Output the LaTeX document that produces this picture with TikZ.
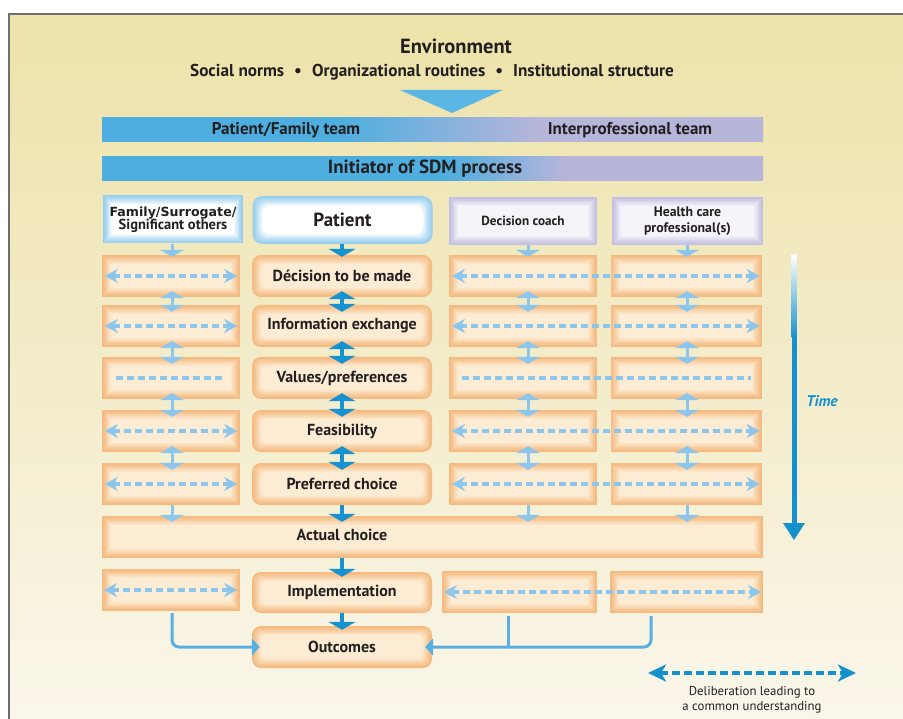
\documentclass[tikz,border=0pt]{standalone}
\usepackage{fontspec}
\setmainfont{PT Sans}
\newfontfamily\verdfont{DejaVu Sans}
\usetikzlibrary{arrows.meta,calc}
\definecolor{bgtop}{RGB}{237,226,169}
\definecolor{bgmid}{RGB}{243,235,198}
\definecolor{bgbot}{RGB}{250,246,234}
\definecolor{framecol}{RGB}{110,110,110}
\definecolor{barblue}{RGB}{77,174,223}
\definecolor{barlav}{RGB}{183,181,218}
\definecolor{oedge}{RGB}{244,186,128}
\definecolor{ocenter}{RGB}{253,236,212}
\definecolor{bedge}{RGB}{150,206,238}
\definecolor{ledge}{RGB}{196,192,226}
\definecolor{lcenter}{RGB}{246,244,249}
\definecolor{lightarr}{RGB}{140,198,236}
\definecolor{darkarr}{RGB}{22,146,208}
\definecolor{outarr}{RGB}{88,176,226}
\definecolor{txt}{RGB}{35,31,32}
\definecolor{trianglecol}{RGB}{90,182,228}
\definecolor{timeblue}{RGB}{20,145,205}
\pgfdeclarehorizontalshading{barA}{100bp}{color(0bp)=(barblue); color(43bp)=(barblue); color(58bp)=(barlav); color(100bp)=(barlav)}
\pgfdeclarehorizontalshading{barB}{100bp}{color(0bp)=(barblue); color(51bp)=(barblue); color(60bp)=(barlav); color(100bp)=(barlav)}
\newcommand\boxfont{\bfseries\fontsize{16}{19}\selectfont}
\tikzset{
  glow/.style n args={4}{fill=#1, path picture={
    \foreach \k in {1,...,10}{
      \pgfmathsetmacro\gp{100*(\k/10)^1.2}
      \fill[#2!\gp!#1, rounded corners=#3]
        ([xshift=\k*#4, yshift=\k*#4]path picture bounding box.south west) rectangle
        ([xshift=-\k*#4, yshift=-\k*#4]path picture bounding box.north east);
    }}},
  obox/.style={glow={oedge}{ocenter}{0pt}{0.9pt}, minimum height=42pt},
  lbox/.style={obox, minimum width=138pt},
  dbox/.style={obox, minimum width=148pt},
  hbox/.style={obox, minimum width=151pt},
  mbox/.style={glow={oedge}{ocenter}{6pt}{0.9pt}, rounded corners=9pt, minimum width=180pt, minimum height=42pt, font=\boxfont},
  famhead/.style={glow={bedge}{white}{0pt}{0.9pt}, minimum width=140pt, minimum height=48pt, align=center},
  pathead/.style={glow={bedge}{white}{8pt}{1pt}, rounded corners=10pt, minimum width=180pt, minimum height=48pt, font=\bfseries\fontsize{19}{22}\selectfont},
  lavhead/.style={glow={ledge}{lcenter}{0pt}{0.9pt}, minimum height=48pt, align=center},
  barnode/.style={shade, minimum width=661pt, minimum height=24pt},
  bartext/.style={font=\bfseries\fontsize{17}{20}\selectfont},
  lvar/.style={draw=lightarr, line width=3pt, -{Triangle[width=24pt,length=7pt]}},
  lvdbl/.style={draw=lightarr, line width=3pt, {Triangle[width=24pt,length=7pt]}-{Triangle[width=24pt,length=7pt]}},
  mvar/.style={draw=darkarr, line width=4pt, -{Triangle[width=27pt,length=8pt]}},
  mvdbl/.style={draw=darkarr, line width=4pt, {Triangle[width=27pt,length=8pt]}-{Triangle[width=27pt,length=8pt]}},
  delib/.style={draw=lightarr, line width=3.5pt, dash pattern=on 7pt off 4pt, {Stealth[length=13pt,width=14pt,inset=4pt]}-{Stealth[length=13pt,width=14pt,inset=4pt]}},
  delibline/.style={draw=lightarr, line width=3.5pt, dash pattern=on 7pt off 4pt},
  legarrow/.style={draw=timeblue, line width=4.5pt, dash pattern=on 8pt off 4pt, {Stealth[length=18pt,width=17pt,inset=5pt]}-{Stealth[length=18pt,width=17pt,inset=5pt]}},
  outconn/.style={draw=outarr, line width=3pt, rounded corners=7pt, -{Triangle[width=17pt,length=8pt]}},
}
\begin{document}
\begin{tikzpicture}[x=1pt,y=-1pt, every node/.style={text=txt, inner sep=0pt}]
\useasboundingbox (0,0) rectangle (903,719);
\fill[white] (0,0) rectangle (903,719);
\shade[top color=bgtop, middle color=bgmid, bottom color=bgbot] (9,14) rectangle (903,719);
\draw[framecol, line width=1.3pt] (9,719) -- (9,14) -- (903,14);

% environment
\node[font=\bfseries\fontsize{20.5}{24}\selectfont] (env) at (456,46) {Environment};
\node[font=\bfseries\fontsize{17.2}{20}\selectfont] (envsub) at (432,72) {Social norms\hspace{10pt}\textbullet\hspace{10pt}Organizational routines\hspace{10pt}\textbullet\hspace{10pt}Institutional structure};
\fill[trianglecol] (400,90) -- (503,90) -- (452,113) -- cycle;

% bars
\node[barnode, shading=barA] (team) at (432.5,130) {};
\node[bartext] (pft) at (286,130) {Patient/Family team};
\node[bartext] (ipt) at (630,130) {Interprofessional team};
\node[barnode, shading=barB, font=\bfseries\fontsize{19}{22}\selectfont] (init) at (432.5,169) {\hspace*{-15pt}Initiator of SDM process};

% headers
\node[famhead] (fam) at (173,219.5) {{\verdfont\bfseries\fontsize{12.6}{14}\selectfont Family/Surrogate/}\\[-1pt]{\bfseries\fontsize{14.5}{15}\selectfont Significant others}};
\node[pathead] (pat) at (342.5,220) {Patient};
\node[lavhead, minimum width=148pt, font=\bfseries\fontsize{13.2}{16}\selectfont] (dch) at (523,221) {Decision coach};
\node[lavhead, minimum width=151pt, font=\bfseries\fontsize{13.8}{16.5}\selectfont] (hcp) at (687.5,221) {Health care\\professional(s)};

% column axes
\coordinate (lax) at (172,0);
\coordinate (max) at (342,0);
\coordinate (dax) at (528,0);
\coordinate (hax) at (687,0);

% rows
\foreach \i/\yy/\t in {1/276/{Décision to be made},2/326/{Information exchange},3/378/{Values/preferences},4/431/{Feasibility},5/484/{Preferred choice}}{
  \node[lbox] (l\i) at (171,\yy) {};
  \node[mbox] (m\i) at (342,\yy) {\t};
  \node[dbox] (d\i) at (523,\yy) {};
  \node[hbox] (h\i) at (686,\yy) {};
}
\node[obox, minimum width=661pt] (act) at (432.5,537) {};
\node[font=\boxfont] (acttxt) at (342,535) {Actual choice};
\node[lbox] (l6) at (171,590) {};
\node[mbox, minimum height=41pt] (m6) at (342,592.5) {Implementation};
\node[obox, minimum width=155pt] (d6) at (519.5,592) {};
\node[obox, minimum width=153pt] (h6) at (686.5,592) {};
\node[mbox] (out) at (342,647) {Outcomes};

% deliberation arrows in rows
\foreach \i in {1,2,4,5}{
  \draw[delib] ([xshift=3pt]l\i.west) -- ([xshift=-3pt]l\i.east);
  \draw[delib] ([xshift=3pt]d\i.west) -- ([xshift=-2pt]h\i.east);
}
\draw[delibline] ([xshift=14pt]l3.west) -- ([xshift=-15pt]l3.east);
\draw[delibline] ([xshift=13pt]d3.west) -- ([xshift=-11pt]h3.east);
\draw[delib] ([xshift=2pt]l6.west) -- ([xshift=-3pt]l6.east);
\draw[delib] ([xshift=2pt]d6.west) -- ([xshift=-2pt]h6.east);

% header to first row
\draw[lvar, shorten >=-2pt] (lax |- fam.south) -- (lax |- l1.north);
\draw[mvar, shorten >=-2pt] (max |- pat.south) -- (max |- m1.north);
\draw[lvar, shorten >=-2pt] (dax |- dch.south) -- (dax |- d1.north);
\draw[lvar, shorten >=-2pt] (hax |- hcp.south) -- (hax |- h1.north);

% between rows
\foreach \i/\j in {1/2,2/3,3/4,4/5}{
  \draw[lvdbl, shorten <=-6pt, shorten >=-7pt] (lax |- l\i.south) -- (lax |- l\j.north);
  \draw[mvdbl, shorten <=-6pt, shorten >=-7pt] (max |- m\i.south) -- (max |- m\j.north);
  \draw[lvdbl, shorten <=-6pt, shorten >=-7pt] (dax |- d\i.south) -- (dax |- d\j.north);
  \draw[lvdbl, shorten <=-6pt, shorten >=-7pt] (hax |- h\i.south) -- (hax |- h\j.north);
}

% row 5 to actual choice
\draw[lvar, shorten >=-6pt] (lax |- l5.south) -- (lax |- act.north);
\draw[mvar, shorten >=-6pt] (max |- m5.south) -- (max |- act.north);
\draw[lvar, shorten >=-6pt] (dax |- d5.south) -- (dax |- act.north);
\draw[lvar, shorten >=-6pt] (hax |- h5.south) -- (hax |- act.north);

% actual -> implementation -> outcomes
\draw[mvar, shorten >=-5pt] (max |- act.south) -- (m6.north);
\draw[mvar, shorten >=-4pt] (m6.south) -- (out.north);

% to outcomes
\coordinate (dbx) at (508,0);
\coordinate (hbx) at (651,0);
\draw[outconn, shorten >=-8pt] ([yshift=-2pt]lax |- l6.south) |- (out.west);
\draw[outconn, shorten >=-7pt] ([yshift=-3pt]hbx |- h6.south) |- (out.east);
\draw[draw=outarr, line width=3pt] ([yshift=-3pt]dbx |- d6.south) -- (dbx |- out.east);

% time arrow
\coordinate (ttop) at (794,255);
\coordinate (tbot) at (794,540);
\shade[top color=white, bottom color=timeblue] ([xshift=-2.5pt]ttop) rectangle (796.5,338);
\fill[timeblue] (791.5,337) rectangle (796.5,525);
\fill[timeblue] (783,523) -- (805,523) -- (tbot) -- cycle;
\node[font=\bfseries\itshape\fontsize{15.5}{18}\selectfont, text=timeblue] (time) at (822,401) {Time};

% legend
\coordinate (legl) at (648,673);
\coordinate (legr) at (856,673);
\draw[legarrow] (legl) -- (legr);
\node[font=\fontsize{12.8}{15}\selectfont, align=center] (legtxt) at (752,700) {Deliberation leading to\\a common understanding};
\end{tikzpicture}
\end{document}
